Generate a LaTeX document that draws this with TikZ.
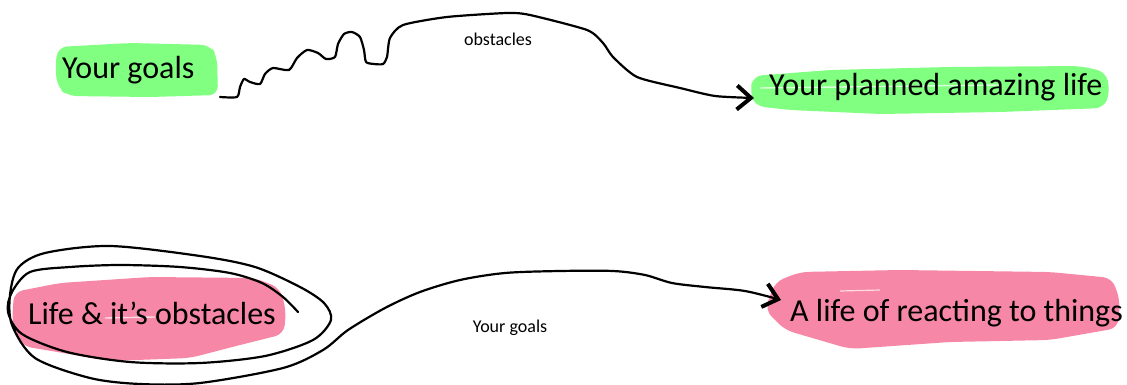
\documentclass[tikz,border=0pt]{standalone}
\usepackage{fontspec}
\setmainfont{Carlito}
\usetikzlibrary{arrows.meta}
\definecolor{hlgreen}{RGB}{128,255,128}
\definecolor{hlpink}{RGB}{246,135,166}
\begin{document}
\begin{tikzpicture}[x=1pt,y=-1pt,
  bigtext/.style={font=\fontsize{32}{38}\selectfont, anchor=base west, inner sep=0pt},
  smalltext/.style={font=\fontsize{18}{22}\selectfont, anchor=base, inner sep=0pt},
  ink/.style={line width=2.2pt, line cap=round, line join=round, black},
  tip/.style={-{Straight Barb[length=14pt,width=24pt,line width=4pt]}},
  hl/.style={rounded corners=9pt}]
\useasboundingbox (0,0) rectangle (1127,385);

% highlights
\fill[hlgreen,hl] (58,47) -- (130,43) -- (210,45) -- (217,56) -- (218,95) -- (150,97) -- (68,96) -- (58,88) -- (55,68) -- cycle;
\fill[hlgreen,hl] (753,76) -- (830,70) -- (950,67) -- (1080,66) -- (1106,72) -- (1110,92) -- (1104,108) -- (1000,112) -- (880,114) -- (790,110) -- (755,106) -- (750,92) -- cycle;
\fill[hlpink,hl] (14,292) -- (60,283) -- (150,277) -- (255,278) -- (280,288) -- (286,310) -- (284,334) -- (240,345) -- (190,358) -- (110,361) -- (22,346) -- (12,322) -- cycle;
\fill[hlpink,hl] (775,282) -- (800,272) -- (900,270) -- (1050,272) -- (1112,278) -- (1120,300) -- (1118,328) -- (1050,340) -- (950,342) -- (850,349) -- (785,330) -- (765,310) -- cycle;
\draw[white,opacity=0.7,line width=1.4pt] (760,88) -- (1000,85);
\draw[white,opacity=0.7,line width=1.4pt] (105,318) -- (155,317);
\draw[white,opacity=0.7,line width=1.2pt] (840,291) -- (880,290);

% texts
\node[bigtext] (goals) at (62,79) {Your goals};
\node[bigtext] (planned) at (769,96) {Your planned amazing life};
\node[bigtext] (lifeobs) at (28,324) {Life \& it’s obstacles};
\node[bigtext] (react) at (790,321) {A life of reacting to things};
\node[smalltext] (obslabel) at (498,46) {obstacles};
\node[smalltext] (goalslabel) at (510,332) {Your goals};

% top connector
\coordinate (topstart) at (220,97);
\coordinate (topend) at (754,98);
\draw[ink,tip] plot[smooth,tension=0.4] coordinates {
 (topstart) (237,97) (240,87) (244,79) (250,82) (260,84) (265,74) (273,68) (289,70) (297,58) (307,50) (318,53) (326,59) (335,57) (338,44) (344,34) (352,32) (360,37) (364,50) (366,62) (374,64) (383,64) (387,57) (390,38) (403,25) (447,17) (507,13) (530,15) (587,30) (603,43) (613,57) (637,77) (680,88) (715,96) (topend)};

% bottom spiral connector
\coordinate (spstart) at (298,312);
\coordinate (botend) at (781,300);
\draw[ink,tip] plot[smooth,tension=0.5] coordinates {
 (spstart) (283,297) (262,283) (230,273) (180,267) (120,265) (70,267) (30,272) (12,292) (8,312) (22,334) (67,352) (130,362) (200,363) (265,356) (313,340) (331,320) (324,303) (300,287) (255,267) (200,256) (110,246) (45,253) (18,268) (10,295) (12,325) (35,358) (90,378) (140,384) (200,383) (283,368) (323,350) (348,330) (385,308) (420,292) (460,280) (505,273) (560,271) (613,271) (645,275) (672,283) (705,287) (745,291) (botend)};
\end{tikzpicture}
\end{document}
